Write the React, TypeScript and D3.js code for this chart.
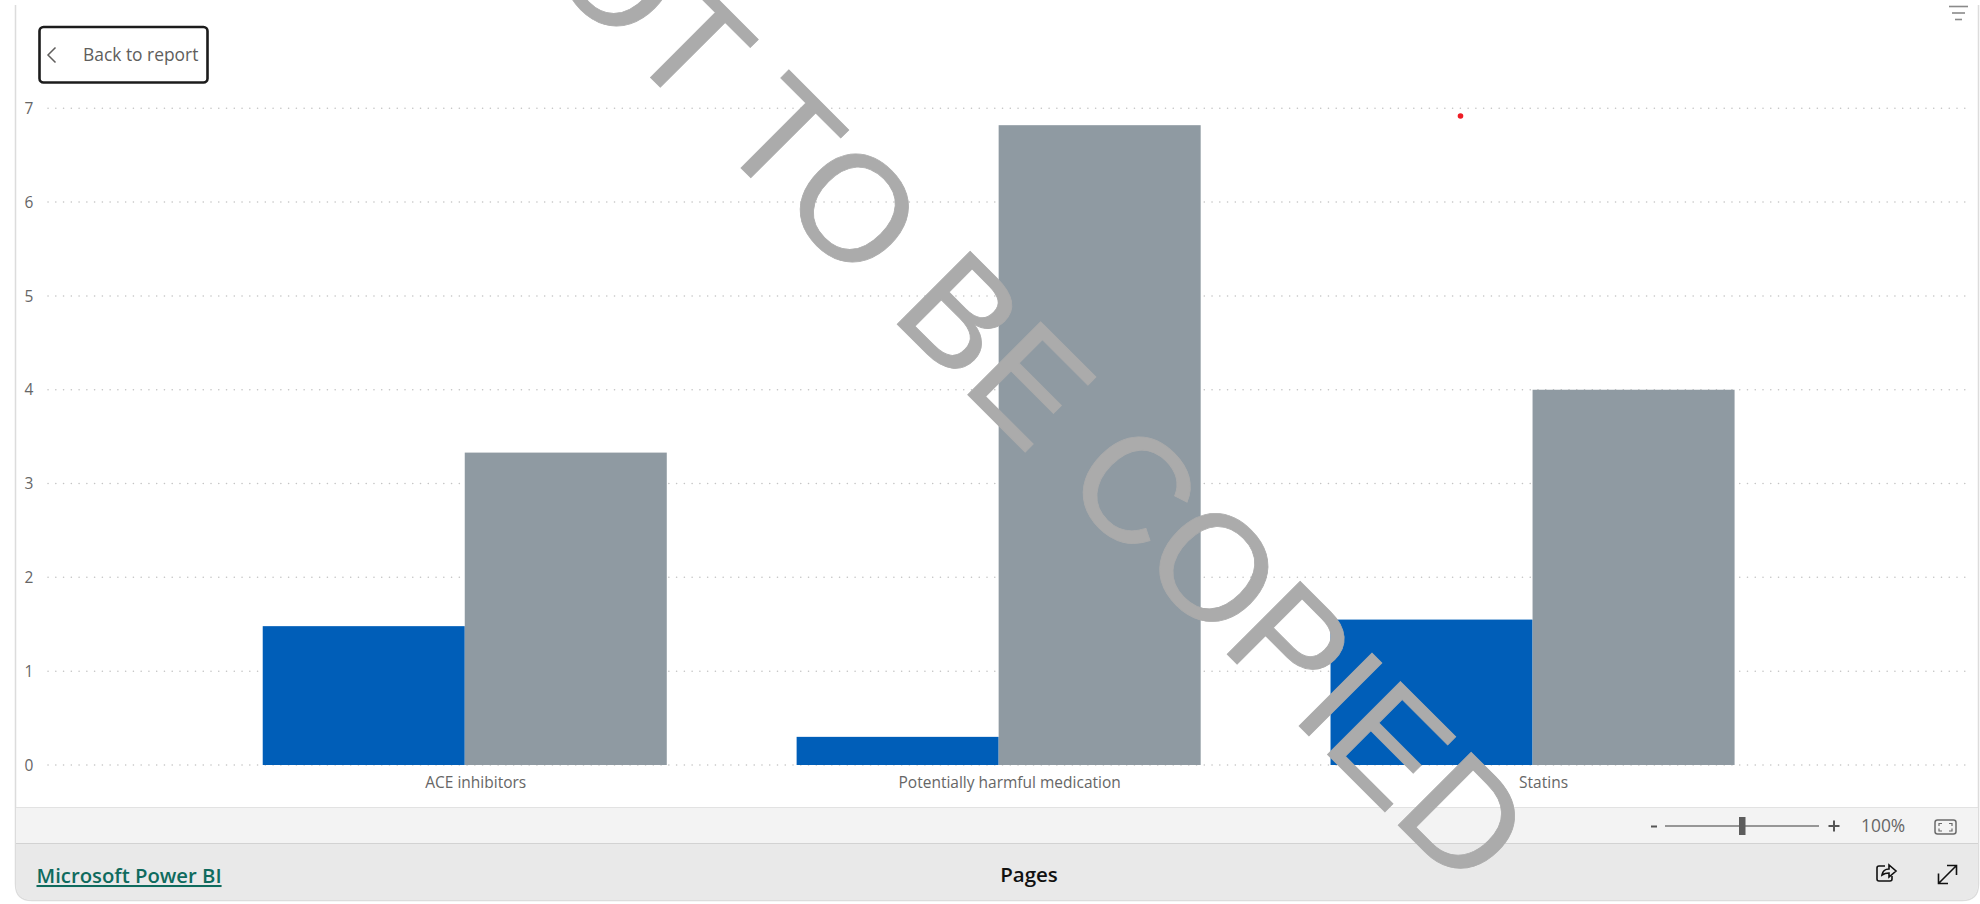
import React from "react";
import * as d3 from "d3";

const categories = ["ACE inhibitors", "Potentially harmful medication", "Statins"];
const seriesNames = ["Practice", "Comparator"];
const practiceValues = [1.48, 0.3, 1.55];
const comparatorValues = [3.33, 6.82, 4.0];
const yTicks = [0, 1, 2, 3, 4, 5, 6, 7];
const watermarkText = "NOT TO BE COPIED";
const seriesColors = ["#005eb8", "#8f9aa2"];

const UI_FONT = "'Open Sans', 'Noto Sans', sans-serif";
const TEXT_GREY = "#666666";

export default function App() {
  const W = 1980;
  const H = 904;

  const y = d3.scaleLinear().domain([0, 7]).range([765, 108.3]);
  const x0 = d3
    .scaleBand<string>()
    .domain(categories)
    .range([197.8, 1799.5])
    .paddingInner(0.2432)
    .paddingOuter(0.1216);
  const x1 = d3.scaleBand<string>().domain(seriesNames).range([0, x0.bandwidth()]);
  const values = [practiceValues, comparatorValues];

  // Category captions sit slightly right of the centre of their bar pair
  const captionOffset = 11;

  return (
    <svg
      width={W}
      height={H}
      viewBox={`0 0 ${W} ${H}`}
      style={{ position: "absolute", left: 0, top: 0, display: "block", background: "#fff" }}
      fontFamily={UI_FONT}
    >
      {/* Report frame */}
      <path d="M15.5 5 V884 Q15.5 900.5 32 900.5 H1962 Q1978.5 900.5 1978.5 884 V5" fill="#fff" stroke="#dcdcdc" strokeWidth={1.5} />
      <rect x={16} y={807.5} width={1962} height={36} fill="#f3f3f3" />
      <line x1={16} x2={1978} y1={807.5} y2={807.5} stroke="#e2e2e2" />
      <path d="M16 843.5 H1978 V884 Q1978 900 1962 900 H32 Q16 900 16 884 Z" fill="#e9e9e9" />
      <line x1={16} x2={1978} y1={843.5} y2={843.5} stroke="#d2d2d2" />

      {/* Value axis */}
      {yTicks.map((t) => (
        <g key={t}>
          <line
            x1={48}
            x2={1971}
            y1={y(t)}
            y2={y(t)}
            stroke="#c4c4c4"
            strokeWidth={1.5}
            strokeDasharray="0.1 7.66"
            strokeLinecap="round"
          />
          <text x={29} y={y(t)} dy="0.36em" textAnchor="middle" fontSize={15.5} fill={TEXT_GREY}>
            {t}
          </text>
        </g>
      ))}

      {/* Bars */}
      {categories.map((c, i) =>
        seriesNames.map((s, j) => (
          <rect
            key={c + s}
            x={(x0(c) as number) + (x1(s) as number)}
            y={y(values[j][i])}
            width={x1.bandwidth()}
            height={y(0) - y(values[j][i])}
            fill={seriesColors[j]}
          />
        ))
      )}

      {/* Category axis */}
      {categories.map((c) => (
        <text
          key={c}
          x={(x0(c) as number) + x0.bandwidth() / 2 + captionOffset}
          y={788}
          textAnchor="middle"
          fontSize={15.5}
          fill={TEXT_GREY}
        >
          {c}
        </text>
      ))}

      {/* Back button */}
      <rect x={39.5} y={27} width={168} height={55.5} rx={4} fill="#fff" stroke="#1c1c1c" strokeWidth={2.6} />
      <path d="M55.5 47.5 L48 55 L55.5 62.5" fill="none" stroke="#605e5c" strokeWidth={1.5} />
      <text x={83} y={61} fontSize={17.4} fill="#605e5c">
        Back to report
      </text>

      {/* Filter glyph */}
      <g stroke="#8a8a8a" strokeWidth={1.6}>
        <line x1={1949} x2={1968} y1={6.5} y2={6.5} />
        <line x1={1952} x2={1965} y1={13} y2={13} />
        <line x1={1955} x2={1962} y1={19.5} y2={19.5} />
      </g>

      {/* Stray red marker */}
      <circle cx={1460.5} cy={116} r={2.8} fill="#ee1c25" />

      {/* Zoom controls */}
      <g>
        <line x1={1651} x2={1657} y1={826.5} y2={826.5} stroke="#555" strokeWidth={2} />
        <line x1={1665} x2={1819} y1={826} y2={826} stroke="#777" strokeWidth={1.5} />
        <rect x={1739} y={817} width={6.5} height={18} fill="#5c5c5c" />
        <path d="M1828.5 826 H1839.5 M1834 820.5 V831.5" stroke="#555" strokeWidth={2} fill="none" />
        <text x={1861} y={832} fontSize={17.4} fill={TEXT_GREY}>
          100%
        </text>
        <rect x={1935} y={820} width={21} height={14} rx={2.5} fill="none" stroke="#6b6b6b" strokeWidth={1.5} />
        <path
          d="M1939 826 V823.5 H1942 M1949 823.5 H1952 V826 M1952 828.5 V831 H1949 M1942 831 H1939 V828.5"
          fill="none"
          stroke="#6b6b6b"
          strokeWidth={1.2}
        />
      </g>

      {/* Footer */}
      <text
        x={36.5}
        y={883}
        fontSize={20.3}
        fontWeight={600}
        fill="#0f6b5e"
        textDecoration="underline"
      >
        Microsoft Power BI
      </text>
      <text x={1029} y={882} textAnchor="middle" fontSize={20.5} fontWeight={600} fill="#111">
        Pages
      </text>
      <g fill="none" stroke="#111" strokeWidth={1.6}>
        <path d="M1885 866 H1879 Q1877 866 1877 868 V879 Q1877 881 1879 881 H1890 Q1892 881 1892 879 V876" />
        <path d="M1882 875 Q1883 869 1889 869 V865 L1896 871 L1889 877 V873 Q1885 873 1882 875 Z" />
        <path d="M1939 883 L1956 866 M1947 865.5 H1956.5 V875 M1938.5 873.5 V883.5 H1948" />
      </g>

      {/* Diagonal watermark over everything */}
      <text
        transform="translate(1466 893) rotate(45)"
        textAnchor="end"
        fontFamily="'Liberation Sans', Arial, sans-serif"
        fontSize={150}
        fill="#ababab"
        stroke="#ababab"
        strokeWidth={0.8}
      >
        {watermarkText}
      </text>
    </svg>
  );
}
